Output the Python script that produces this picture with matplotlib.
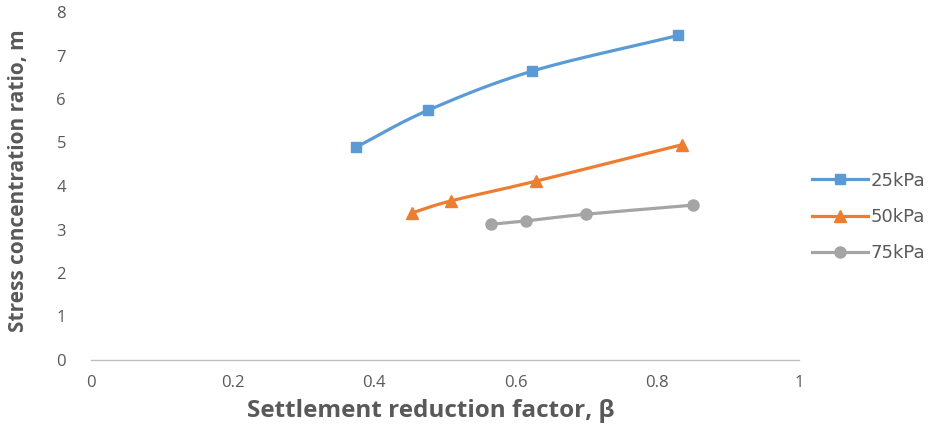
import numpy as np
import matplotlib
matplotlib.use("Agg")
import matplotlib.pyplot as plt

# Settlement reduction factor (beta) and stress concentration ratio (m)
beta_25 = [0.374, 0.476, 0.623, 0.829]
m_25 = [4.89, 5.74, 6.64, 7.46]

beta_50 = [0.453, 0.509, 0.628, 0.835]
m_50 = [3.38, 3.66, 4.11, 4.95]

beta_75 = [0.565, 0.615, 0.699, 0.850]
m_75 = [3.12, 3.20, 3.35, 3.56]

series_labels = ["25kPa", "50kPa", "75kPa"]
x_ticks = [0, 0.2, 0.4, 0.6, 0.8, 1]
x_tick_labels = ["0", "0.2", "0.4", "0.6", "0.8", "1"]
y_ticks = [0, 1, 2, 3, 4, 5, 6, 7, 8]


def smooth(x, y, n=30, tension=0.5):
    """Cardinal spline through the points, like a smoothed-line chart."""
    x = np.asarray(x, float)
    y = np.asarray(y, float)
    px = np.concatenate([[2 * x[0] - x[1]], x, [2 * x[-1] - x[-2]]])
    py = np.concatenate([[2 * y[0] - y[1]], y, [2 * y[-1] - y[-2]]])
    xs, ys = [], []
    t = np.linspace(0, 1, n)
    for i in range(1, len(px) - 2):
        p0, p1, p2, p3 = (np.array([px[j], py[j]]) for j in range(i - 1, i + 3))
        m1 = tension * (p2 - p0)
        m2 = tension * (p3 - p1)
        h00 = 2 * t**3 - 3 * t**2 + 1
        h10 = t**3 - 2 * t**2 + t
        h01 = -2 * t**3 + 3 * t**2
        h11 = t**3 - t**2
        pts = (np.outer(h00, p1) + np.outer(h10, m1) + np.outer(h01, p2) + np.outer(h11, m2))
        xs.extend(pts[:, 0])
        ys.extend(pts[:, 1])
    return np.array(xs), np.array(ys)


fig = plt.figure(figsize=(9.39, 4.29), dpi=100)
ax = fig.add_axes([91 / 939, 1 - 360 / 429, 708 / 939, 348 / 429])

styles = [
    (beta_25, m_25, "#5B9BD5", "s", 7),
    (beta_50, m_50, "#ED7D31", "^", 8),
    (beta_75, m_75, "#A5A5A5", "o", 8),
]
handles = []
for (bx, my, color, marker, ms), label in zip(styles, series_labels):
    sx, sy = smooth(bx, my)
    ax.plot(sx, sy, color=color, lw=2.3, solid_capstyle="round", zorder=2)
    ax.plot(bx, my, linestyle="none", marker=marker, ms=ms, color=color, zorder=3)
    h, = ax.plot([], [], color=color, lw=2.3, marker=marker, ms=ms, label=label)
    handles.append(h)

ax.set_xlim(0, 1)
ax.set_ylim(0, 8)
ax.set_xticks(x_ticks)
ax.set_xticklabels(x_tick_labels)
ax.set_yticks(y_ticks)

for side in ("top", "right", "left"):
    ax.spines[side].set_visible(False)
ax.spines["bottom"].set_color("#BFBFBF")
ax.spines["bottom"].set_linewidth(1.0)
ax.tick_params(axis="both", length=0, labelsize=12, labelcolor="#595959")
ax.tick_params(axis="x", pad=11)
ax.tick_params(axis="y", pad=18)
for lab in ax.get_xticklabels() + ax.get_yticklabels():
    lab.set_family("Open Sans")

ax.set_xlabel("Settlement reduction factor, β", fontsize=17.5, fontweight="bold",
              color="#595959", family="Open Sans", va="center")
ax.set_ylabel("Stress concentration ratio, m", fontsize=15, fontweight="bold",
              color="#595959", family="Open Sans", va="center")
ax.xaxis.set_label_coords(0.4795, -0.147)
ax.yaxis.set_label_coords(-0.103, 0.514)

fig.legend(handles=handles, loc="center left", bbox_to_anchor=(796 / 939, 1 - 217 / 429),
           frameon=False, labelcolor="#595959", handlelength=3.1,
           handletextpad=0.12, labelspacing=1.02, prop={"family": "DejaVu Sans", "size": 13})

fig.savefig("out.png", dpi=100)
